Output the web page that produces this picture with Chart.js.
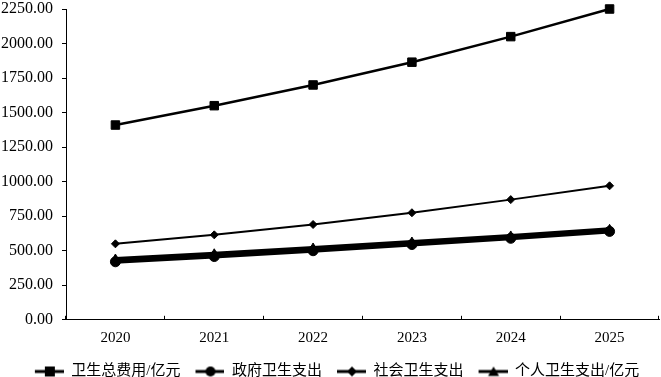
<!DOCTYPE html>
<html>
<head>
<meta charset="utf-8">
<script src="https://cdn.jsdelivr.net/npm/chart.js@4.4.1/dist/chart.umd.min.js"></script>
<style>
  html, body { margin: 0; padding: 0; background: #fff; }
  #wrap { width: 661px; height: 377px; }
</style>
</head>
<body>
<div id="wrap"><canvas id="grafica"></canvas></div>
<script>
// datos (亿元)
const anios = ['2020', '2021', '2022', '2023', '2024', '2025'];
const total = [1410, 1550, 1700, 1865, 2050, 2250];
const gobierno = [420, 458, 500, 545, 590, 640];
const social = [550, 615, 690, 775, 870, 970];
const personal = [440, 478, 520, 563, 607, 655];

const nombres = ['卫生总费用/亿元', '政府卫生支出', '社会卫生支出', '个人卫生支出/亿元'];
const marcas = ['rect', 'circle', 'rectRot', 'triangle'];
const radios = [6, 5, 4, 5];
const grosores = [2.5, 4, 2, 4];

// icono de leyenda: margen en blanco, linea y la marca en medio
function iconoLeyenda(estilo) {
  const c = document.createElement('canvas');
  c.width = 40;
  c.height = 14;
  const g = c.getContext('2d');
  g.strokeStyle = '#000';
  g.fillStyle = '#000';
  g.lineWidth = 3;
  g.beginPath();
  g.moveTo(11, 7);
  g.lineTo(40, 7);
  g.stroke();
  const cx = 26;
  g.beginPath();
  if (estilo === 'rect') {
    g.rect(cx - 5, 2, 10, 10);
  } else if (estilo === 'circle') {
    g.arc(cx, 7, 5, 0, Math.PI * 2);
  } else if (estilo === 'rectRot') {
    g.moveTo(cx, 2); g.lineTo(cx + 5, 7); g.lineTo(cx, 12); g.lineTo(cx - 5, 7);
  } else {
    g.moveTo(cx, 2); g.lineTo(cx + 5.5, 11.5); g.lineTo(cx - 5.5, 11.5);
  }
  g.closePath();
  g.fill();
  return c;
}
const iconos = marcas.map(iconoLeyenda);

const series = [total, gobierno, social, personal];

// la leyenda del original queda un poco a la derecha
const moverLeyenda = {
  id: 'moverLeyenda',
  afterLayout(chart) {
    if (chart.legend) {
      chart.legend.left += 6;
      chart.legend.right += 6;
    }
  }
};

const ctx = document.getElementById('grafica').getContext('2d');

new Chart(ctx, {
  type: 'line',
  data: {
    labels: anios,
    datasets: series.map((d, i) => ({
      label: nombres[i],
      data: d,
      borderColor: '#000',
      backgroundColor: '#000',
      borderWidth: grosores[i],
      pointStyle: marcas[i],
      pointRadius: radios[i],
      pointBorderWidth: 1,
      pointHoverRadius: radios[i],
      tension: 0,
      fill: false,
      clip: false
    }))
  },
  options: {
    responsive: true,
    maintainAspectRatio: false,
    animation: false,
    layout: { autoPadding: false, padding: { top: 0, right: 2, left: -8, bottom: -12 } },
    plugins: {
      legend: {
        position: 'bottom',
        labels: {
          usePointStyle: true,
          pointStyleWidth: 40,
          padding: 4,
          color: '#000',
          font: { family: '"Liberation Serif", "Noto Sans CJK SC", serif', size: 15 },
          generateLabels: (chart) => chart.data.datasets.map((ds, i) => ({
            text: ds.label,
            pointStyle: iconos[i],
            fillStyle: '#000',
            strokeStyle: '#000',
            lineWidth: 0,
            fontColor: '#000',
            datasetIndex: i
          }))
        }
      },
      tooltip: { enabled: false }
    },
    scales: {
      x: {
        offset: true,
        grid: {
          display: true,
          offset: true,
          drawOnChartArea: false,
          drawTicks: true,
          tickLength: -4,
          color: '#000'
        },
        border: { display: true, color: '#000', width: 1 },
        ticks: {
          color: '#000',
          padding: 14,
          font: { family: '"Liberation Serif", serif', size: 15, lineHeight: 1.08 }
        }
      },
      y: {
        min: 0,
        max: 2250,
        grid: {
          display: true,
          drawOnChartArea: false,
          drawTicks: true,
          tickLength: 4,
          color: '#000'
        },
        border: { display: true, color: '#000', width: 1 },
        ticks: {
          stepSize: 250,
          color: '#000',
          padding: 9,
          font: { family: '"Liberation Serif", serif', size: 16, lineHeight: 0 },
          callback: (v) => Number(v).toFixed(2)
        }
      }
    }
  },
  plugins: [moverLeyenda]
});
</script>
</body>
</html>
